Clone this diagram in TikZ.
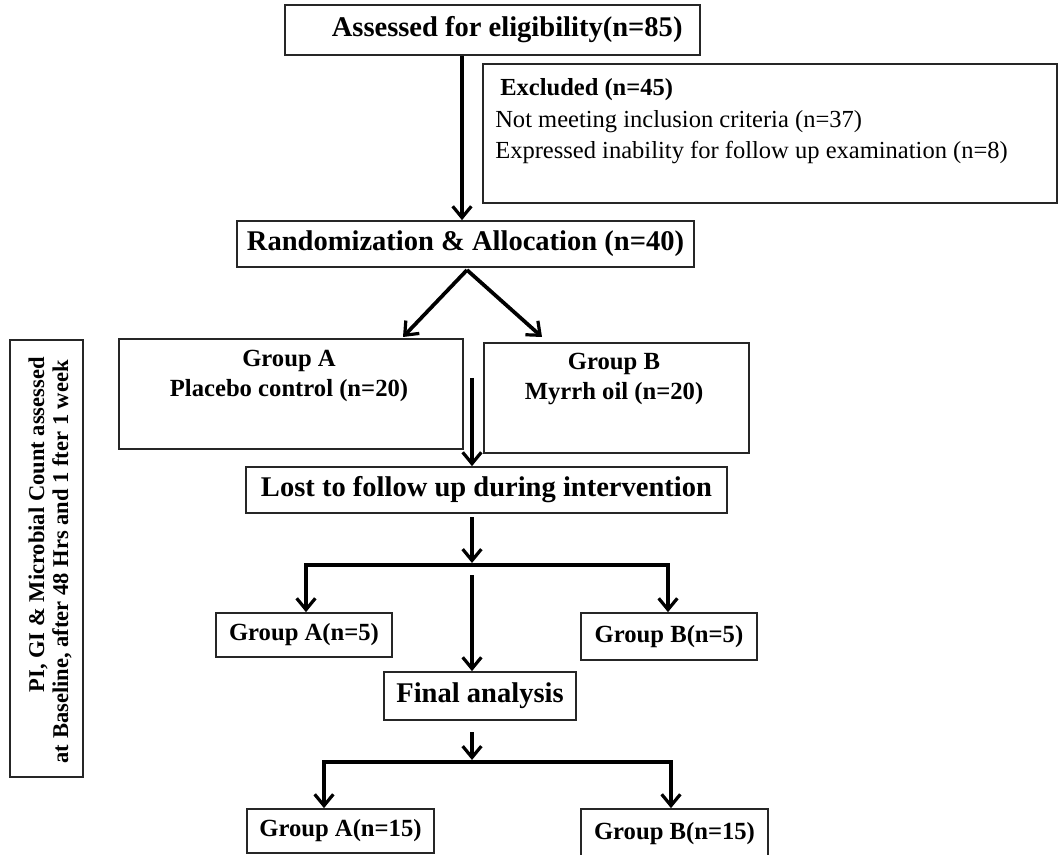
\documentclass[tikz,border=0pt]{standalone}
\usepackage{fontspec}
\setmainfont{Liberation Serif}
\usetikzlibrary{arrows.meta}
\begin{document}
\begin{tikzpicture}[x=0.75pt,y=-0.75pt,
  box/.style={draw=black!85, line width=1.3pt, inner sep=0pt, align=center},
  big/.style={font=\fontsize{21.4pt}{25pt}\selectfont\bfseries},
  mid/.style={font=\fontsize{18.5pt}{22pt}\selectfont\bfseries},
  small/.style={font=\fontsize{18.4pt}{22pt}\selectfont},
  smallb/.style={font=\fontsize{18.4pt}{22pt}\selectfont\bfseries},
  side/.style={font=\fontsize{16.9pt}{20pt}\selectfont\bfseries},
  tip/.tip={Straight Barb[length=8.5pt,width=14pt,line width=2.4pt]},
  conn/.style={line width=2.8pt, -tip},
  conntwo/.style={line width=2.8pt, tip-tip, line join=miter}
]
\useasboundingbox[fill=white] (0,0) rectangle (1064,855);

% boxes
\node[box,big,minimum width=415*0.75pt,minimum height=50*0.75pt] (top) at (492.5,30) {\hspace*{22pt}Assessed for eligibility(n=85)};
\node[box,minimum width=574*0.75pt,minimum height=139*0.75pt] (excl) at (770,133.5) {};
\node[smallb,anchor=base west,inner sep=0pt] (ex1) at (500,96) {Excluded (n=45)};
\node[small,anchor=base west,inner sep=0pt] (ex2) at (495,128) {Not meeting inclusion criteria (n=37)};
\node[small,anchor=base west,inner sep=0pt] (ex3) at (495,159) {Expressed inability for follow up examination (n=8)};

\node[box,big,minimum width=457*0.75pt,minimum height=46*0.75pt] (rand) at (465.5,244) {Randomization \& Allocation (n=40)};

\node[box,minimum width=344*0.75pt,minimum height=110*0.75pt] (ga) at (291,394) {};
\node[mid,anchor=base,inner sep=0pt] (ga1) at (289,367) {Group A};
\node[mid,anchor=base,inner sep=0pt] (ga2) at (289,397) {Placebo control (n=20)};

\node[box,minimum width=265*0.75pt,minimum height=110*0.75pt] (gb) at (616.5,398) {};
\node[mid,anchor=base,inner sep=0pt] (gb1) at (614,370) {Group B};
\node[mid,anchor=base,inner sep=0pt] (gb2) at (614,400) {Myrrh oil (n=20)};

\node[box,big,minimum width=481*0.75pt,minimum height=46*0.75pt] (lost) at (486.5,490) {Lost to follow up during intervention};

\node[box,mid,minimum width=176*0.75pt,minimum height=44*0.75pt] (a5) at (304,635) {Group A(n=5)};
\node[box,mid,minimum width=176*0.75pt,minimum height=47*0.75pt] (b5) at (669,636.5) {Group B(n=5)};
\node[box,big,minimum width=192*0.75pt,minimum height=48*0.75pt] (final) at (480,696) {Final analysis};
\node[box,mid,minimum width=187*0.75pt,minimum height=44*0.75pt] (a15) at (340.5,831) {Group A(n=15)};
\node[box,mid,minimum width=187*0.75pt,minimum height=49*0.75pt] (b15) at (674.5,833.5) {Group B(n=15)};

\node[box,minimum width=73*0.75pt,minimum height=437*0.75pt] (sidebox) at (46.5,558.5) {};
\node[side,rotate=90,anchor=base east,inner sep=0pt] (s1) at (44,357) {PI, GI \& Microbial Count assessed};
\node[side,rotate=90,anchor=base east,inner sep=0pt] (s2) at (68,360) {at Baseline, after 48 Hrs and 1 fter 1 week};

% connectors
\coordinate (c1) at (462,0);
\draw[conn] (top.south -| c1) -- (rand.north -| c1);
\coordinate (rs) at (467,270);
\coordinate (gain) at (403,337);
\coordinate (gbin) at (542,337);
\draw[conn] (rs) -- (gain);
\draw[conn] (rs) -- (gbin);
\coordinate (m1) at (472,378);
\draw[conn] (m1) -- (m1 |- lost.north);
\coordinate (m2) at (472,517);
\coordinate (m3) at (472,563);
\draw[conn] (m2) -- (m3);
\coordinate (jl) at (306,565);
\coordinate (jr) at (668,565);
\draw[conntwo] (jl |- a5.north) -- (jl) -- (jr) -- (jr |- b5.north);
\coordinate (m4) at (472,575);
\draw[conn] (m4) -- (m4 |- final.north);
\coordinate (m5) at (472,732);
\coordinate (m6) at (472,760);
\draw[conn] (m5) -- (m6);
\coordinate (kl) at (324,762);
\coordinate (kr) at (671,762);
\draw[conntwo] (kl |- a15.north) -- (kl) -- (kr) -- (kr |- b15.north);
\end{tikzpicture}
\end{document}
